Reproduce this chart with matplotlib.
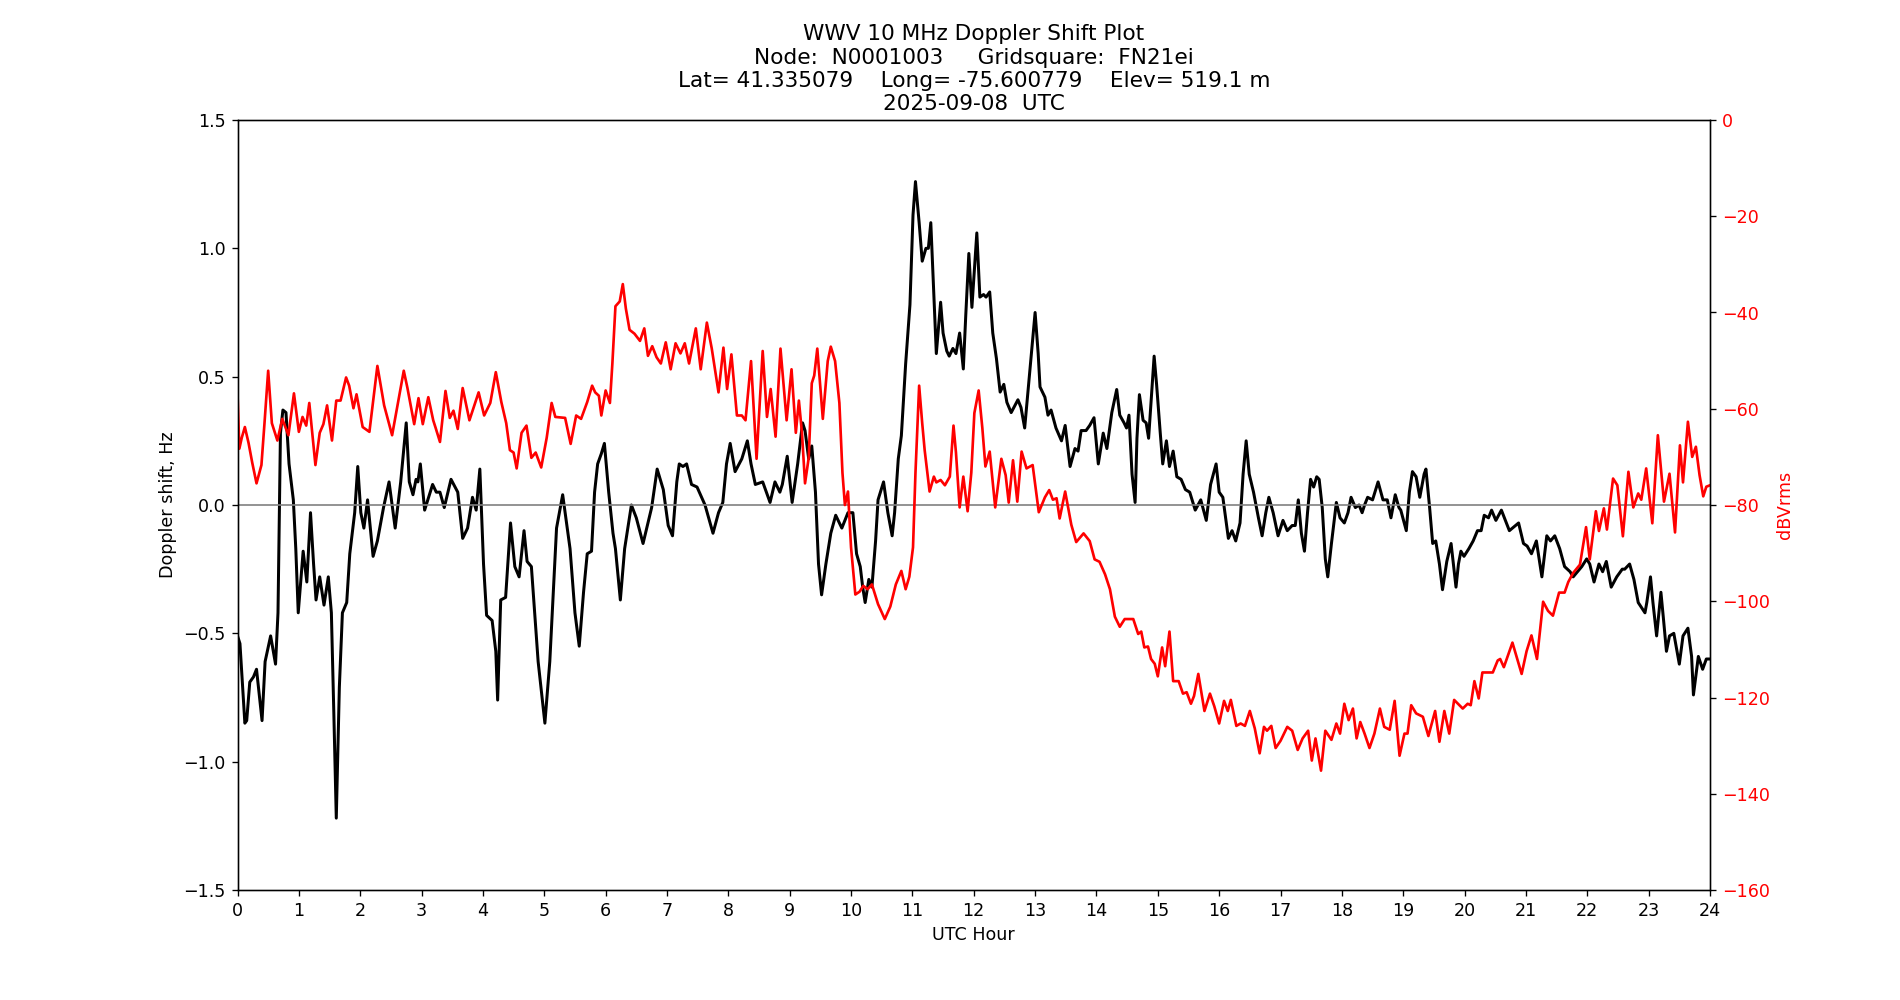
import numpy as np
import matplotlib
matplotlib.use('Agg')
from matplotlib import pyplot as plt

# doppler shift (black), UTC hour / Hz
dop_t = [0.00, 0.04, 0.12, 0.15, 0.20, 0.26, 0.31, 0.40, 0.45, 0.54, 0.62, 0.66, 0.70, 0.74, 0.79,
         0.84, 0.91, 0.95, 0.99, 1.03, 1.07, 1.13, 1.19, 1.24, 1.28, 1.34, 1.41, 1.48, 1.53, 1.57,
         1.61, 1.66, 1.71, 1.78, 1.83, 1.91, 1.96, 2.01, 2.06, 2.12, 2.21, 2.28, 2.38, 2.47, 2.57,
         2.66, 2.75, 2.80, 2.86, 2.91, 2.94, 2.98, 3.05, 3.18, 3.24, 3.30, 3.37, 3.48, 3.59, 3.67,
         3.75, 3.83, 3.89, 3.95, 4.01, 4.06, 4.15, 4.21, 4.24, 4.29, 4.37, 4.45, 4.52, 4.59, 4.67,
         4.72, 4.79, 4.90, 5.01, 5.09, 5.20, 5.30, 5.42, 5.50, 5.57, 5.64, 5.70, 5.77, 5.82, 5.87,
         5.93, 5.98, 6.05, 6.12, 6.16, 6.24, 6.31, 6.42, 6.50, 6.61, 6.75, 6.84, 6.94, 7.02, 7.09,
         7.16, 7.20, 7.26, 7.32, 7.40, 7.49, 7.62, 7.75, 7.84, 7.91, 7.97, 8.03, 8.11, 8.22, 8.31,
         8.37, 8.44, 8.56, 8.68, 8.76, 8.84, 8.88, 8.96, 9.04, 9.13, 9.21, 9.25, 9.31, 9.36, 9.42,
         9.47, 9.52, 9.59, 9.67, 9.75, 9.85, 9.95, 10.03, 10.09, 10.15, 10.19, 10.23, 10.29, 10.34, 10.40,
         10.44, 10.53, 10.60, 10.67, 10.71, 10.77, 10.82, 10.89, 10.96, 11.01, 11.05, 11.11, 11.16, 11.22, 11.26,
         11.30, 11.35, 11.39, 11.46, 11.50, 11.56, 11.60, 11.66, 11.71, 11.77, 11.83, 11.87, 11.92, 11.97, 12.05,
         12.10, 12.16, 12.20, 12.26, 12.31, 12.37, 12.43, 12.49, 12.54, 12.61, 12.72, 12.77, 12.83, 12.91, 13.00,
         13.05, 13.08, 13.16, 13.21, 13.26, 13.34, 13.43, 13.49, 13.57, 13.65, 13.70, 13.75, 13.83, 13.89, 13.96,
         14.03, 14.11, 14.17, 14.25, 14.33, 14.38, 14.45, 14.49, 14.53, 14.58, 14.63, 14.66, 14.70, 14.76, 14.81,
         14.85, 14.89, 14.94, 14.98, 15.04, 15.08, 15.14, 15.19, 15.25, 15.31, 15.38, 15.45, 15.52, 15.61, 15.70,
         15.79, 15.86, 15.95, 16.00, 16.06, 16.15, 16.21, 16.27, 16.34, 16.39, 16.44, 16.49, 16.56, 16.64, 16.70,
         16.76, 16.81, 16.88, 16.96, 17.04, 17.11, 17.19, 17.24, 17.29, 17.34, 17.39, 17.44, 17.49, 17.54, 17.59,
         17.63, 17.68, 17.73, 17.77, 17.83, 17.91, 17.97, 18.04, 18.10, 18.15, 18.22, 18.28, 18.33, 18.37, 18.42,
         18.50, 18.59, 18.67, 18.74, 18.80, 18.87, 18.93, 18.96, 19.05, 19.10, 19.15, 19.21, 19.27, 19.34, 19.37,
         19.43, 19.48, 19.53, 19.59, 19.64, 19.71, 19.78, 19.86, 19.90, 19.94, 19.99, 20.07, 20.14, 20.21, 20.27,
         20.32, 20.39, 20.44, 20.51, 20.60, 20.73, 20.88, 20.96, 21.02, 21.09, 21.17, 21.26, 21.34, 21.40, 21.47,
         21.55, 21.63, 21.72, 21.77, 21.84, 21.91, 21.99, 22.04, 22.11, 22.19, 22.25, 22.31, 22.39, 22.48, 22.57,
         22.61, 22.69, 22.76, 22.83, 22.94, 22.97, 23.03, 23.07, 23.13, 23.20, 23.24, 23.29, 23.34, 23.41, 23.50,
         23.56, 23.64, 23.70, 23.73, 23.81, 23.88, 23.94, 24.00]
dop_hz = [-0.51, -0.54, -0.85, -0.84, -0.69, -0.67, -0.64, -0.84, -0.61, -0.51, -0.62, -0.42, 0.28, 0.37, 0.36,
          0.16, 0.02, -0.17, -0.42, -0.30, -0.18, -0.30, -0.03, -0.23, -0.37, -0.28, -0.39, -0.28, -0.42, -0.81,
          -1.22, -0.71, -0.42, -0.38, -0.19, -0.03, 0.15, -0.03, -0.09, 0.02, -0.20, -0.14, -0.01, 0.09, -0.09,
          0.09, 0.32, 0.09, 0.04, 0.10, 0.09, 0.16, -0.02, 0.08, 0.05, 0.05, -0.01, 0.10, 0.05, -0.13,
          -0.09, 0.03, -0.02, 0.14, -0.23, -0.43, -0.45, -0.57, -0.76, -0.37, -0.36, -0.07, -0.24, -0.28, -0.10,
          -0.22, -0.24, -0.61, -0.85, -0.61, -0.09, 0.04, -0.17, -0.42, -0.55, -0.34, -0.19, -0.18, 0.05, 0.16,
          0.20, 0.24, 0.05, -0.11, -0.17, -0.37, -0.17, 0.00, -0.05, -0.15, -0.01, 0.14, 0.06, -0.08, -0.12,
          0.09, 0.16, 0.15, 0.16, 0.08, 0.07, 0.00, -0.11, -0.03, 0.01, 0.16, 0.24, 0.13, 0.18, 0.25,
          0.16, 0.08, 0.09, 0.01, 0.09, 0.05, 0.08, 0.19, 0.01, 0.16, 0.32, 0.29, 0.18, 0.23, 0.05,
          -0.23, -0.35, -0.23, -0.11, -0.04, -0.09, -0.03, -0.03, -0.19, -0.24, -0.32, -0.38, -0.29, -0.32, -0.14,
          0.02, 0.09, -0.03, -0.12, -0.03, 0.18, 0.27, 0.55, 0.78, 1.13, 1.26, 1.10, 0.95, 1.00, 1.00,
          1.10, 0.82, 0.59, 0.79, 0.67, 0.60, 0.58, 0.61, 0.59, 0.67, 0.53, 0.74, 0.98, 0.77, 1.06,
          0.81, 0.82, 0.81, 0.83, 0.67, 0.57, 0.44, 0.47, 0.40, 0.36, 0.41, 0.38, 0.30, 0.51, 0.75,
          0.59, 0.46, 0.42, 0.35, 0.37, 0.30, 0.25, 0.31, 0.15, 0.22, 0.21, 0.29, 0.29, 0.31, 0.34,
          0.16, 0.28, 0.22, 0.36, 0.45, 0.35, 0.32, 0.30, 0.35, 0.12, 0.01, 0.26, 0.43, 0.33, 0.32,
          0.26, 0.40, 0.58, 0.47, 0.28, 0.16, 0.25, 0.15, 0.21, 0.11, 0.10, 0.06, 0.05, -0.02, 0.02,
          -0.06, 0.08, 0.16, 0.05, 0.03, -0.13, -0.10, -0.14, -0.07, 0.12, 0.25, 0.12, 0.05, -0.05, -0.12,
          -0.03, 0.03, -0.03, -0.12, -0.06, -0.10, -0.08, -0.08, 0.02, -0.11, -0.18, -0.03, 0.10, 0.07, 0.11,
          0.10, -0.01, -0.21, -0.28, -0.15, 0.01, -0.05, -0.07, -0.03, 0.03, -0.01, 0.00, -0.03, 0.00, 0.03,
          0.02, 0.09, 0.02, 0.02, -0.05, 0.04, -0.01, -0.02, -0.10, 0.05, 0.13, 0.11, 0.03, 0.12, 0.14,
          -0.01, -0.15, -0.14, -0.23, -0.33, -0.22, -0.15, -0.32, -0.23, -0.18, -0.20, -0.17, -0.14, -0.10, -0.10,
          -0.04, -0.05, -0.02, -0.06, -0.02, -0.10, -0.07, -0.15, -0.16, -0.19, -0.14, -0.28, -0.12, -0.14, -0.12,
          -0.17, -0.24, -0.26, -0.28, -0.26, -0.24, -0.21, -0.23, -0.30, -0.23, -0.26, -0.22, -0.32, -0.28, -0.25,
          -0.25, -0.23, -0.29, -0.38, -0.42, -0.38, -0.28, -0.38, -0.51, -0.34, -0.44, -0.57, -0.51, -0.50, -0.62,
          -0.51, -0.48, -0.59, -0.74, -0.59, -0.64, -0.60, -0.60]

# signal level (red), UTC hour / dBVrms
amp_t = [0.00, 0.03, 0.07, 0.12, 0.18, 0.24, 0.31, 0.39, 0.44, 0.50, 0.56, 0.65, 0.73, 0.83, 0.92,
         1.00, 1.06, 1.12, 1.17, 1.27, 1.34, 1.40, 1.46, 1.54, 1.61, 1.68, 1.77, 1.82, 1.89, 1.94,
         2.04, 2.15, 2.28, 2.39, 2.52, 2.71, 2.77, 2.88, 2.95, 3.02, 3.11, 3.19, 3.23, 3.30, 3.39,
         3.46, 3.52, 3.59, 3.67, 3.78, 3.93, 4.02, 4.12, 4.21, 4.30, 4.38, 4.44, 4.50, 4.55, 4.63,
         4.71, 4.79, 4.86, 4.95, 5.04, 5.12, 5.18, 5.34, 5.43, 5.52, 5.60, 5.70, 5.78, 5.83, 5.89,
         5.93, 6.00, 6.07, 6.11, 6.16, 6.23, 6.28, 6.33, 6.39, 6.47, 6.56, 6.63, 6.69, 6.76, 6.83,
         6.90, 6.98, 7.06, 7.14, 7.22, 7.29, 7.36, 7.47, 7.55, 7.65, 7.73, 7.84, 7.92, 7.98, 8.05,
         8.14, 8.22, 8.28, 8.37, 8.46, 8.56, 8.63, 8.69, 8.77, 8.85, 8.95, 9.03, 9.10, 9.15, 9.20,
         9.25, 9.31, 9.36, 9.40, 9.45, 9.54, 9.62, 9.67, 9.74, 9.81, 9.86, 9.90, 9.95, 10.00, 10.07,
         10.14, 10.20, 10.27, 10.34, 10.44, 10.55, 10.64, 10.73, 10.82, 10.89, 10.95, 11.01, 11.05, 11.11, 11.16,
         11.20, 11.28, 11.35, 11.39, 11.46, 11.53, 11.61, 11.67, 11.71, 11.77, 11.83, 11.90, 11.96, 12.01, 12.08,
         12.14, 12.19, 12.26, 12.35, 12.45, 12.52, 12.57, 12.64, 12.71, 12.78, 12.86, 12.96, 13.06, 13.16, 13.23,
         13.29, 13.35, 13.40, 13.49, 13.59, 13.67, 13.79, 13.89, 13.97, 14.05, 14.14, 14.22, 14.30, 14.38, 14.46,
         14.60, 14.68, 14.73, 14.78, 14.84, 14.89, 14.95, 15.00, 15.07, 15.12, 15.19, 15.25, 15.34, 15.41, 15.47,
         15.54, 15.59, 15.66, 15.76, 15.85, 15.92, 16.00, 16.08, 16.14, 16.19, 16.28, 16.35, 16.42, 16.50, 16.58,
         16.66, 16.73, 16.78, 16.85, 16.92, 17.00, 17.11, 17.19, 17.28, 17.36, 17.45, 17.51, 17.57, 17.66, 17.73,
         17.83, 17.91, 17.97, 18.04, 18.11, 18.18, 18.24, 18.30, 18.37, 18.45, 18.53, 18.62, 18.69, 18.78, 18.86,
         18.94, 19.02, 19.07, 19.13, 19.21, 19.32, 19.41, 19.52, 19.59, 19.67, 19.75, 19.83, 19.97, 20.05, 20.10,
         20.16, 20.23, 20.29, 20.37, 20.46, 20.54, 20.58, 20.64, 20.78, 20.93, 21.01, 21.09, 21.18, 21.28, 21.36,
         21.44, 21.54, 21.63, 21.69, 21.77, 21.88, 21.94, 21.98, 22.04, 22.14, 22.19, 22.27, 22.32, 22.42, 22.49,
         22.58, 22.67, 22.75, 22.83, 22.88, 22.96, 23.06, 23.15, 23.25, 23.34, 23.43, 23.51, 23.56, 23.64, 23.71,
         23.77, 23.83, 23.89, 23.94, 24.00]
amp_db = [-56.8, -68.3, -66.0, -63.8, -67.1, -71.2, -75.5, -71.7, -63.0, -52.1, -63.0, -66.6, -62.1, -65.5, -56.8,
          -64.8, -61.7, -63.5, -58.8, -71.7, -65.0, -63.2, -59.3, -66.6, -58.3, -58.3, -53.5, -55.2, -59.9, -57.0,
          -63.8, -64.8, -51.1, -59.3, -65.5, -52.1, -55.7, -63.2, -57.8, -63.2, -57.6, -62.4, -64.0, -66.9, -56.3,
          -61.9, -60.4, -64.2, -55.7, -62.4, -56.6, -61.4, -58.8, -52.4, -58.6, -63.0, -68.6, -69.1, -72.4, -65.0,
          -63.5, -70.2, -69.1, -72.2, -66.0, -58.8, -61.7, -61.9, -67.3, -61.4, -62.1, -58.6, -55.2, -56.6, -57.3,
          -61.4, -56.2, -58.8, -50.6, -38.7, -37.7, -34.1, -39.2, -43.6, -44.4, -45.9, -43.3, -49.0, -47.0, -49.3,
          -50.6, -46.2, -51.8, -46.4, -48.5, -46.4, -50.6, -43.3, -51.8, -42.1, -47.5, -56.6, -47.3, -55.9, -48.7,
          -61.4, -61.4, -62.4, -50.1, -70.4, -48.0, -61.7, -55.9, -65.8, -47.5, -62.4, -51.8, -65.0, -58.3, -65.0,
          -75.5, -70.2, -54.7, -53.1, -47.5, -62.1, -50.1, -47.1, -50.1, -58.8, -73.3, -80.0, -77.2, -88.8, -98.6,
          -98.0, -96.8, -97.5, -96.5, -100.6, -103.7, -101.1, -96.5, -93.7, -97.5, -94.9, -88.8, -73.3, -55.2, -63.0,
          -68.6, -77.2, -74.1, -75.3, -74.8, -75.9, -74.1, -63.5, -69.1, -80.5, -74.1, -81.3, -73.3, -60.9, -56.2,
          -64.0, -72.0, -68.9, -80.5, -70.4, -73.8, -79.5, -70.7, -79.3, -68.9, -72.4, -71.7, -81.5, -78.4, -76.9,
          -78.9, -78.6, -82.8, -77.2, -84.1, -87.7, -85.9, -87.5, -91.3, -91.8, -94.4, -97.5, -103.2, -105.3, -103.7,
          -103.7, -106.8, -106.3, -109.6, -109.4, -112.0, -113.0, -115.6, -109.6, -113.5, -106.3, -116.6, -116.6, -119.2, -118.9,
          -121.3, -119.7, -115.1, -122.8, -119.2, -121.8, -125.4, -120.7, -122.8, -120.5, -125.9, -125.4, -125.9, -122.8, -126.4,
          -131.6, -126.1, -126.9, -125.9, -130.5, -129.0, -126.1, -126.9, -130.9, -128.5, -126.9, -133.1, -128.5, -135.2, -126.9,
          -128.8, -125.4, -127.5, -121.3, -124.7, -122.3, -128.5, -125.1, -127.5, -130.5, -127.5, -122.3, -126.1, -126.7, -120.7,
          -132.1, -127.5, -127.5, -121.6, -123.3, -124.0, -128.0, -122.8, -129.2, -122.8, -127.5, -120.5, -122.3, -121.3, -121.6,
          -116.6, -120.2, -114.8, -114.8, -114.8, -112.3, -112.0, -113.7, -108.6, -115.1, -110.4, -107.1, -112.0, -100.1, -102.0,
          -103.0, -98.2, -98.2, -96.0, -94.1, -92.4, -87.7, -84.6, -91.3, -81.3, -85.4, -80.7, -85.1, -74.5, -75.9,
          -86.5, -73.1, -80.5, -77.6, -78.9, -72.4, -83.8, -65.5, -79.3, -73.5, -85.7, -67.6, -75.3, -62.7, -70.0,
          -67.9, -73.8, -78.2, -76.2, -75.9]

title = ('WWV 10 MHz Doppler Shift Plot\n'
         'Node:  N0001003     Gridsquare:  FN21ei\n'
         'Lat= 41.335079    Long= -75.600779    Elev= 519.1 m\n'
         '2025-09-08  UTC')

plt.rcParams['font.size'] = 10.5

fig = plt.figure(figsize=(19/1.2, 10/1.2), dpi=120)
ax = fig.add_subplot(111)

ax.plot(dop_t, dop_hz, color='k', linewidth=1.8)
ax.axhline(0, color='grey', linewidth=1)
ax.set_xlim(0, 24)
ax.set_ylim(-1.5, 1.5)
ax.set_xticks(range(25))
ax.set_xlabel('UTC Hour')
ax.set_ylabel('Doppler shift, Hz')
ax.set_title(title, fontsize=13)

ax2 = ax.twinx()
ax2.plot(amp_t, amp_db, color='r', linewidth=1.6)
ax2.set_ylim(-160, 0)
ax2.set_ylabel('dBVrms', color='r')
ax2.tick_params(axis='y', labelcolor='r')

plt.savefig('out.png', dpi=120)
